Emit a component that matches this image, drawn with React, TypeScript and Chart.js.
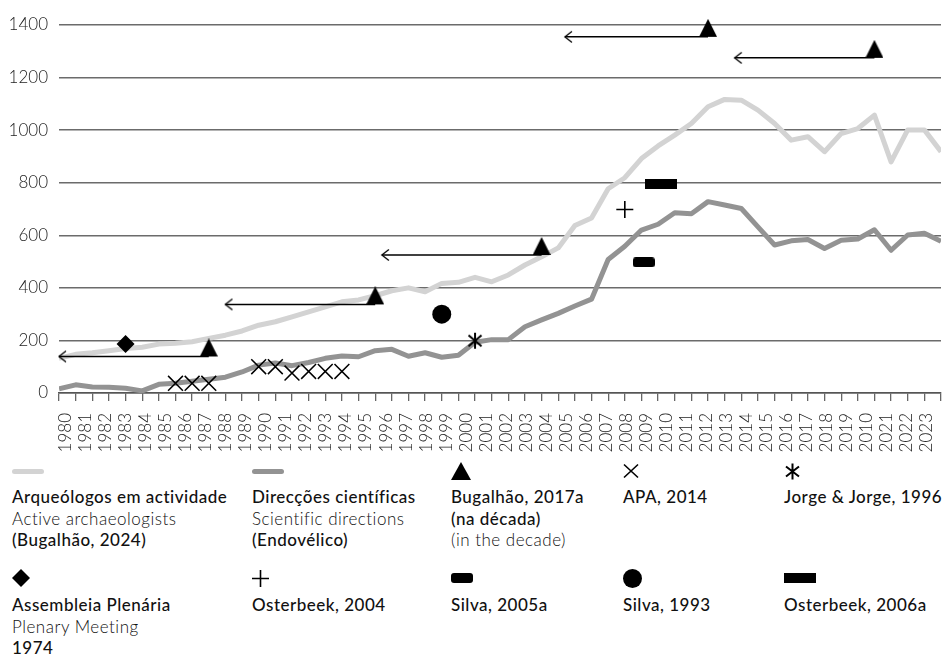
import React, { useEffect, useRef } from 'react';
import { Chart, registerables } from 'chart.js';

Chart.register(...registerables);

// Tick labels as printed in the reference (note the "2010" at the 2020 position)
const yearLabels = [
  '1980', '1981', '1982', '1983', '1984', '1985', '1986', '1987', '1988', '1989',
  '1990', '1991', '1992', '1993', '1994', '1995', '1996', '1997', '1998', '1999',
  '2000', '2001', '2002', '2003', '2004', '2005', '2006', '2007', '2008', '2009',
  '2010', '2011', '2012', '2013', '2014', '2015', '2016', '2017', '2018', '2019',
  '2010', '2021', '2022', '2023',
];

const yTickValues = [0, 200, 400, 600, 800, 1000, 1200, 1400];

// Arqueólogos em actividade (54 yearly points)
const activeArchaeologists = [
  132, 147, 153, 161, 169, 174, 186, 189, 195, 208,
  220, 236, 258, 271, 290, 309, 328, 347, 354, 370,
  389, 400, 385, 417, 421, 440, 423, 449, 487, 518,
  552, 637, 666, 777, 819, 892, 940, 981, 1025, 1089,
  1117, 1114, 1076, 1025, 962, 975, 918, 987, 1006, 1057,
  879, 1001, 1001, 918,
];

// Direcções científicas (54 yearly points)
const scientificDirections = [
  16, 31, 23, 22, 18, 8, 33, 37, 45, 52,
  60, 80, 106, 114, 104, 116, 132, 141, 138, 161,
  166, 140, 153, 136, 144, 193, 203, 203, 252, 278,
  303, 331, 357, 508, 558, 620, 642, 686, 682, 728,
  715, 702, 632, 563, 579, 584, 550, 581, 586, 621,
  543, 601, 608, 577,
];

// Bugalhão, 2017a (na década)
const decadeIndex = [9, 19, 29, 39, 49];
const decadeArrowFrom = [0, 10, 19.4, 30.4, 40.6];
const decadeValues = [139, 337, 525, 1355, 1275];

// APA, 2014
const apaIndex = [7, 8, 9, 12, 13, 14, 15, 16, 17];
const apaValues = [37, 37, 37, 100, 100, 76, 82, 82, 82];

// Jorge & Jorge, 1996
const jorgeIndex = [25];
const jorgeValues = [199];

// Assembleia Plenária 1974
const plenaryIndex = [4];
const plenaryValues = [186];

// Osterbeek, 2004
const osterbeek2004Index = [34];
const osterbeek2004Values = [698];

// Silva, 2005a
const silva2005Index = [35.14];
const silva2005Values = [497];

// Silva, 1993
const silva1993Index = [23];
const silva1993Values = [300];

// Osterbeek, 2006a
const osterbeek2006Index = [36.17];
const osterbeek2006Values = [795];

const pts = (xs: number[], ys: number[]) => xs.map((x, i) => ({ x, y: ys[i] }));

function makeCanvas(w: number, h: number, draw: (ctx: CanvasRenderingContext2D) => void) {
  const c = document.createElement('canvas');
  c.width = w;
  c.height = h;
  const ctx = c.getContext('2d') as CanvasRenderingContext2D;
  draw(ctx);
  return c;
}

const FONT = 'Lato, "Noto Sans", sans-serif';

function ChartCanvas() {
  const ref = useRef<HTMLCanvasElement | null>(null);
  useEffect(() => {
    if (!ref.current) return;
    const triangleImg = makeCanvas(18, 36, (ctx) => {
      ctx.fillStyle = '#000';
      ctx.beginPath();
      ctx.moveTo(9, 0);
      ctx.lineTo(18, 18);
      ctx.lineTo(0, 18);
      ctx.closePath();
      ctx.fill();
    });
    const chevronImg = makeCanvas(16, 14, (ctx) => {
      ctx.strokeStyle = '#000';
      ctx.lineWidth = 1.3;
      ctx.beginPath();
      ctx.moveTo(15, 1.5);
      ctx.lineTo(8, 7);
      ctx.lineTo(15, 12.5);
      ctx.stroke();
    });
    const asteriskImg = makeCanvas(18, 18, (ctx) => {
      ctx.strokeStyle = '#000';
      ctx.lineWidth = 2;
      ctx.beginPath();
      ctx.moveTo(2.5, 3.5); ctx.lineTo(15.5, 14.5);
      ctx.moveTo(15.5, 3.5); ctx.lineTo(2.5, 14.5);
      ctx.moveTo(9, 1); ctx.lineTo(9, 17);
      ctx.stroke();
    });
    const smallRectImg = makeCanvas(22, 10, (ctx) => {
      ctx.fillStyle = '#000';
      ctx.beginPath();
      if ((ctx as any).roundRect) (ctx as any).roundRect(0, 0, 22, 10, 3);
      else ctx.rect(0, 0, 22, 10);
      ctx.fill();
    });
    const bigRectImg = makeCanvas(32, 10, (ctx) => {
      ctx.fillStyle = '#000';
      ctx.fillRect(0, 0, 32, 10);
    });

    const arrowSets = decadeIndex.map((to, k) => ({
      type: 'line' as const,
      data: [
        { x: decadeArrowFrom[k], y: decadeValues[k] },
        { x: to, y: decadeValues[k] },
      ],
      borderColor: '#000',
      borderWidth: 1.5,
      pointStyle: [chevronImg, 'circle'] as any,
      pointRadius: [5, 0],
      pointHoverRadius: 0,
      order: 1,
      clip: false as any,
    }));

    const marker = (data: any[], extra: any) => ({
      type: 'line' as const,
      data,
      showLine: false,
      order: 0,
      clip: false as any,
      pointHoverRadius: 0,
      ...extra,
    });

    const noPad = (s: any) => {
      s.paddingLeft = 0;
      s.paddingRight = 0;
    };

    const chart = new Chart(ref.current, {
      type: 'line',
      data: {
        datasets: [
          {
            data: activeArchaeologists.map((v, i) => ({ x: i, y: v })),
            borderColor: '#d3d3d3',
            borderWidth: 5,
            pointRadius: 0,
            borderJoinStyle: 'round',
            tension: 0,
            order: 3,
          },
          {
            data: scientificDirections.map((v, i) => ({ x: i, y: v })),
            borderColor: '#939393',
            borderWidth: 5,
            pointRadius: 0,
            borderJoinStyle: 'round',
            tension: 0,
            order: 3,
          },
          ...arrowSets,
          marker(pts(decadeIndex, decadeValues), { pointStyle: triangleImg, pointRadius: 9 }),
          marker(pts(apaIndex, apaValues), {
            pointStyle: 'crossRot', pointRadius: 10.5, borderColor: '#000', borderWidth: 1.5, backgroundColor: '#000',
          }),
          marker(pts(jorgeIndex, jorgeValues), { pointStyle: asteriskImg, pointRadius: 8 }),
          marker(pts(plenaryIndex, plenaryValues), {
            pointStyle: 'rectRot', pointRadius: 9, backgroundColor: '#000', borderColor: '#000', borderWidth: 0,
          }),
          marker(pts(osterbeek2004Index, osterbeek2004Values), {
            pointStyle: 'cross', pointRadius: 8.5, borderColor: '#000', borderWidth: 1.6,
          }),
          marker(pts(silva2005Index, silva2005Values), { pointStyle: smallRectImg, pointRadius: 8 }),
          marker(pts(silva1993Index, silva1993Values), {
            pointStyle: 'circle', pointRadius: 9.5, backgroundColor: '#000', borderColor: '#000', borderWidth: 0,
          }),
          marker(pts(osterbeek2006Index, osterbeek2006Values), { pointStyle: bigRectImg, pointRadius: 8 }),
        ] as any,
      },
      options: {
        animation: false,
        responsive: false,
        events: [],
        layout: { autoPadding: false, padding: { top: 25, right: 2, left: 0, bottom: 0 } },
        plugins: { legend: { display: false }, tooltip: { enabled: false } },
        scales: {
          x: {
            type: 'linear',
            position: 'bottom',
            weight: 0,
            min: 0,
            max: activeArchaeologists.length - 1,
            afterBuildTicks: (s: any) => {
              s.ticks = activeArchaeologists.map((_, i) => ({ value: i }));
            },
            afterFit: (s: any) => {
              s.height = 8;
              noPad(s);
            },
            ticks: { display: false },
            grid: {
              display: true,
              drawOnChartArea: false,
              drawTicks: true,
              tickLength: 8,
              color: '#666',
              lineWidth: 1.3,
            },
            border: { display: true, color: '#555', width: 1.5 },
          },
          xl: {
            type: 'linear',
            position: 'bottom',
            weight: 1,
            min: 1979.66,
            max: 2023.73,
            afterBuildTicks: (s: any) => {
              s.ticks = yearLabels.map((_, k) => ({ value: 1980 + k }));
            },
            afterFit: (s: any) => {
              s.height = 54;
              noPad(s);
            },
            ticks: {
              autoSkip: false,
              minRotation: 90,
              maxRotation: 90,
              padding: 4,
              color: '#222',
              font: { family: FONT, size: 17, weight: 300 as any },
              callback: (v: any) => yearLabels[Math.round(Number(v) - 1980)],
            },
            grid: { display: false },
            border: { display: false },
          },
          y: {
            type: 'linear',
            min: 0,
            max: 1400,
            afterBuildTicks: (s: any) => {
              s.ticks = yTickValues.map((v) => ({ value: v }));
            },
            afterFit: (s: any) => {
              s.width = 59;
            },
            ticks: {
              padding: 11,
              color: '#222',
              font: { family: FONT, size: 17, weight: 300 as any },
              callback: (v: any) => String(v),
            },
            grid: { color: '#6b6b6b', lineWidth: 1.5, drawTicks: false },
            border: { display: false },
          },
        } as any,
      },
    });
    return () => chart.destroy();
  }, []);
  return <canvas ref={ref} width={943} height={455} style={{ position: 'absolute', left: 0, top: 0 }} />;
}

type Line = { t: string; w: number };
type Item = { left: number; row: number; symbol: string; lines: Line[] };

const legendItems: Item[] = [
  { left: 12, row: 0, symbol: 'light', lines: [
    { t: 'Arqueólogos em actividade', w: 500 }, { t: 'Active archaeologists', w: 300 }, { t: '(Bugalhão, 2024)', w: 500 }] },
  { left: 252, row: 0, symbol: 'dark', lines: [
    { t: 'Direcções científicas', w: 500 }, { t: 'Scientific directions', w: 300 }, { t: '(Endovélico)', w: 500 }] },
  { left: 451, row: 0, symbol: 'triangle', lines: [
    { t: 'Bugalhão, 2017a', w: 500 }, { t: '(na década)', w: 500 }, { t: '(in the decade)', w: 300 }] },
  { left: 623, row: 0, symbol: 'x', lines: [{ t: 'APA, 2014', w: 500 }] },
  { left: 784, row: 0, symbol: 'asterisk', lines: [{ t: 'Jorge & Jorge, 1996', w: 500 }] },
  { left: 12, row: 1, symbol: 'diamond', lines: [
    { t: 'Assembleia Plenária', w: 500 }, { t: 'Plenary Meeting', w: 300 }, { t: '1974', w: 500 }] },
  { left: 252, row: 1, symbol: 'plus', lines: [{ t: 'Osterbeek, 2004', w: 500 }] },
  { left: 451, row: 1, symbol: 'smallRect', lines: [{ t: 'Silva, 2005a', w: 500 }] },
  { left: 623, row: 1, symbol: 'circle', lines: [{ t: 'Silva, 1993', w: 500 }] },
  { left: 784, row: 1, symbol: 'bigRect', lines: [{ t: 'Osterbeek, 2006a', w: 500 }] },
];

function Symbol({ kind }: { kind: string }) {
  const s = { position: 'absolute' as const, left: 0, top: 0, overflow: 'visible' as const };
  switch (kind) {
    case 'light':
      return <div style={{ position: 'absolute', left: 0, top: -2.5, width: 32, height: 5, borderRadius: 3, background: '#d3d3d3' }} />;
    case 'dark':
      return <div style={{ position: 'absolute', left: 0, top: -2.5, width: 32, height: 5, borderRadius: 3, background: '#939393' }} />;
    case 'triangle':
      return <svg width={20} height={18} style={{ ...s, top: -9 }}><polygon points="10,0 20,18 0,18" fill="#000" /></svg>;
    case 'x':
      return <svg width={16} height={16} style={{ ...s, top: -8 }}><path d="M1,1.5 L15,14.5 M15,1.5 L1,14.5" stroke="#000" strokeWidth={1.6} /></svg>;
    case 'asterisk':
      return <svg width={17} height={17} style={{ ...s, top: -8.5 }}><path d="M2,3.5 L15,13.5 M15,3.5 L2,13.5 M8.5,0.5 L8.5,16.5" stroke="#000" strokeWidth={2} /></svg>;
    case 'diamond':
      return <svg width={18} height={18} style={{ ...s, top: -9 }}><polygon points="9,0 18,9 9,18 0,9" fill="#000" /></svg>;
    case 'plus':
      return <svg width={17} height={17} style={{ ...s, top: -8.5 }}><path d="M8.5,0 L8.5,17 M0,8.5 L17,8.5" stroke="#000" strokeWidth={1.6} /></svg>;
    case 'smallRect':
      return <div style={{ position: 'absolute', left: 0, top: -5, width: 22, height: 10, borderRadius: 3, background: '#000' }} />;
    case 'circle':
      return <div style={{ position: 'absolute', left: 0, top: -9.5, width: 19, height: 19, borderRadius: '50%', background: '#000' }} />;
    case 'bigRect':
      return <div style={{ position: 'absolute', left: 0, top: -5, width: 32, height: 10, background: '#000' }} />;
    default:
      return null;
  }
}

function Legend() {
  const symbolY = [471, 578];
  const textTop = [486, 594];
  return (
    <>
      {legendItems.map((it, k) => (
        <React.Fragment key={k}>
          <div style={{ position: 'absolute', left: it.left, top: symbolY[it.row], width: 0, height: 0 }}>
            <Symbol kind={it.symbol} />
          </div>
          <div style={{ position: 'absolute', left: it.left, top: textTop[it.row], fontFamily: FONT, fontSize: 17, lineHeight: '21.5px', letterSpacing: '0.5px', whiteSpace: 'nowrap' }}>
            {it.lines.map((ln, j) => (
              <div key={j} style={{ fontWeight: ln.w, color: '#111' }}>{ln.t}</div>
            ))}
          </div>
        </React.Fragment>
      ))}
    </>
  );
}

export default function App() {
  return (
    <div style={{ position: 'absolute', left: 0, top: 0, width: 943, height: 654, background: '#fff', overflow: 'hidden' }}>
      <ChartCanvas />
      <Legend />
    </div>
  );
}
